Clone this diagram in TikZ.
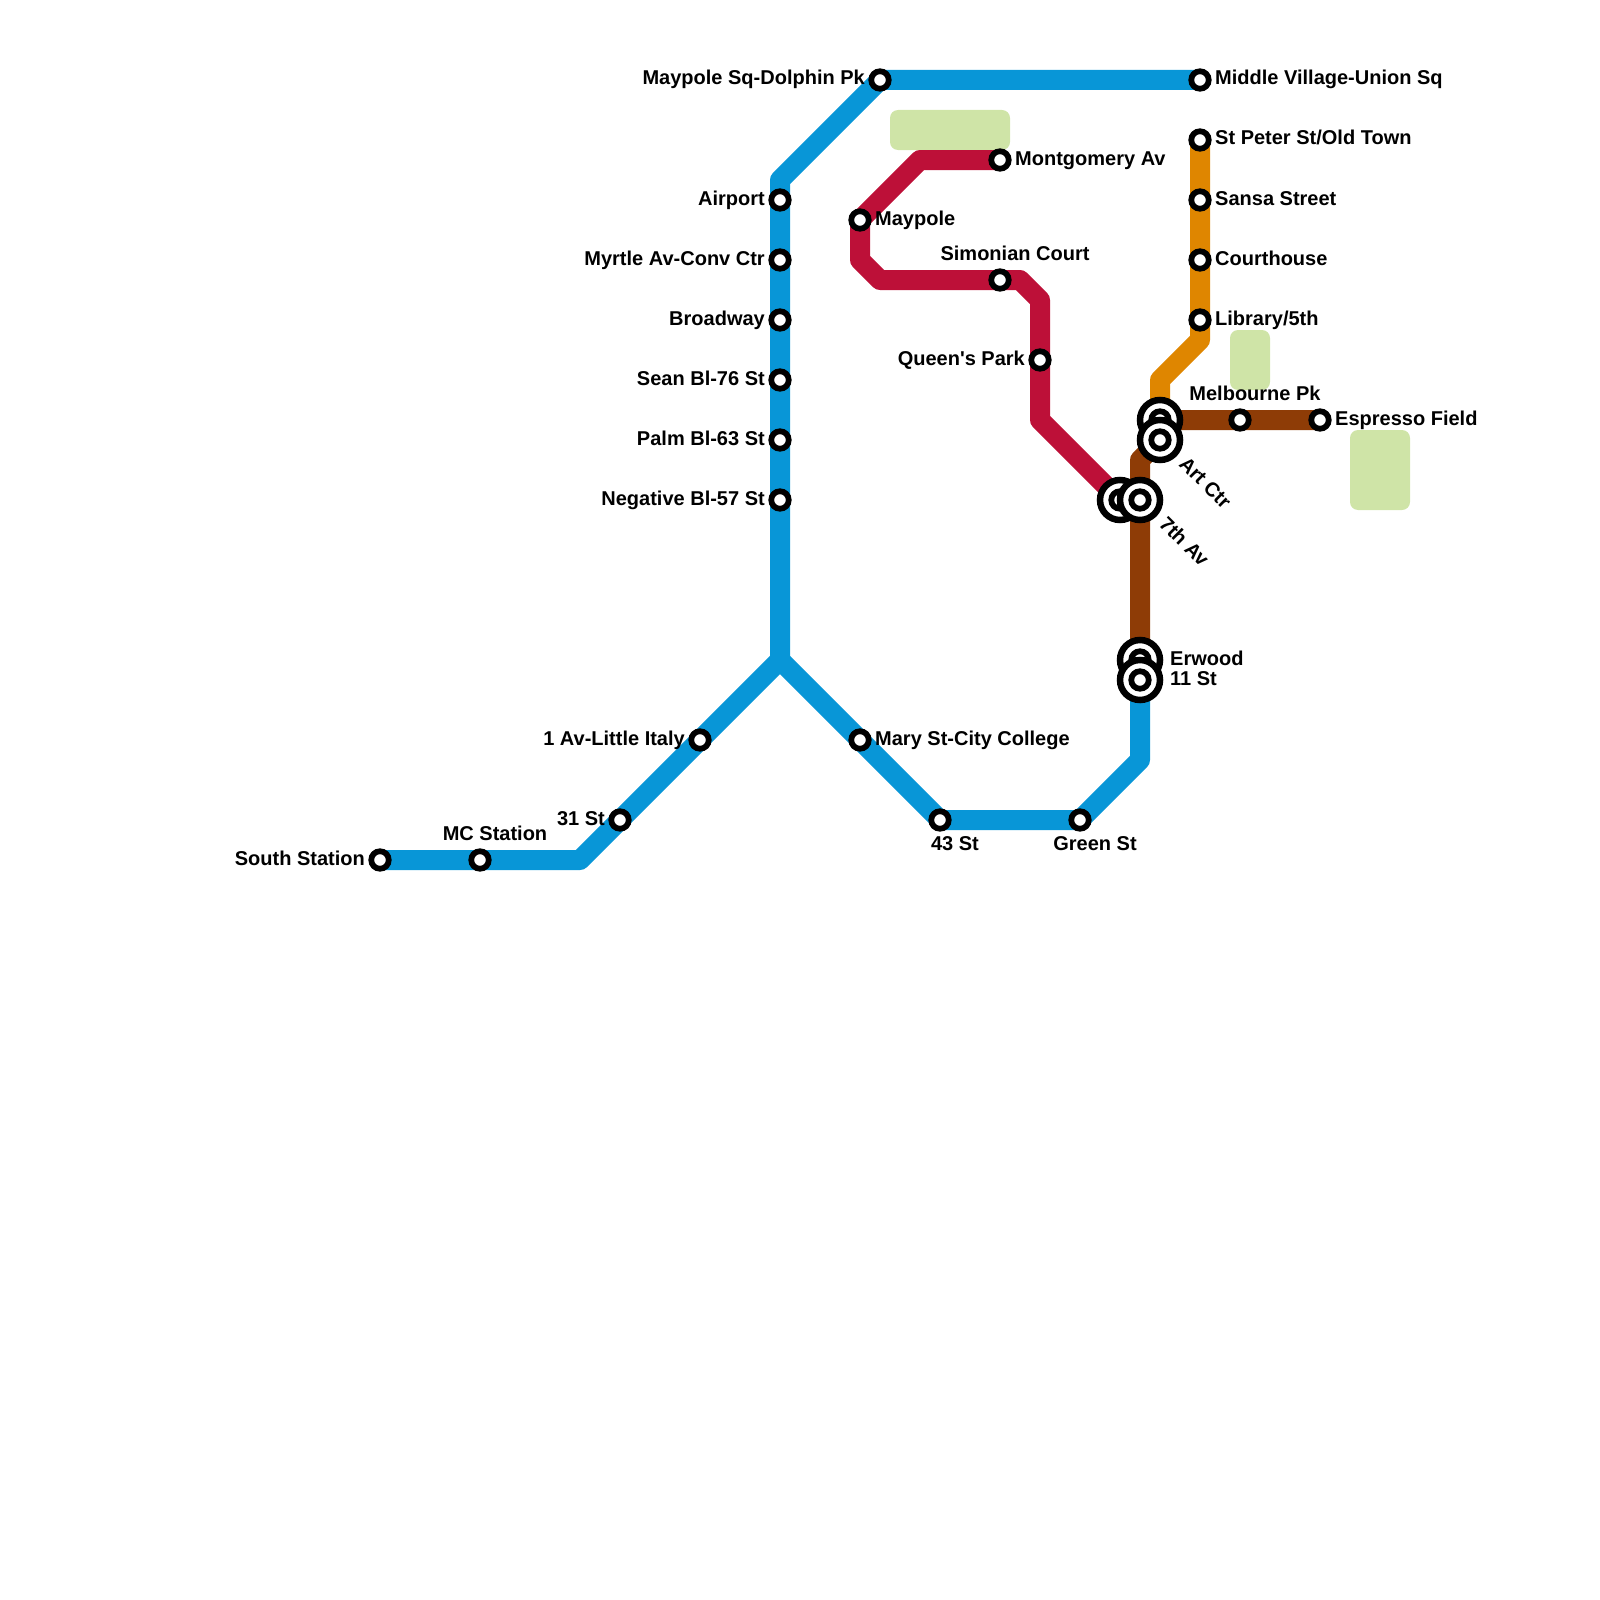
\documentclass[tikz,border=0pt]{standalone}
\usepackage{fontspec}
\setmainfont{Liberation Sans}
\usetikzlibrary{backgrounds}
\definecolor{bluemetro}{HTML}{0896D7}
\definecolor{redmetro}{HTML}{BD1038}
\definecolor{orangemetro}{HTML}{DF8600}
\definecolor{brownmetro}{HTML}{8E3C06}
\definecolor{parkgreen}{HTML}{CFE4A7}
\tikzset{
	station/.style={circle,draw=black,fill=white,line width=5.75pt,minimum size=17.5pt,inner sep=0pt,outer sep=0pt},
	hub/.style={station,line width=6.5pt,minimum size=40pt},
	metro/.style={line width=20pt,line join=round},
	park/.style={fill=parkgreen,rounded corners=8pt},
	stationname/.style={font=\bfseries\fontsize{20}{22}\selectfont,inner sep=0pt}
}
\begin{document}
\begin{tikzpicture}[x=20pt,y=-20pt]
	\useasboundingbox (0,0) rectangle (80,80);
	% blue stations
	\node[station] (south) at (19,43) {};
	\node[station] (mc) at (24,43) {};
	\node[station] (thirtyone) at (31,41) {};
	\node[station] (firstav) at (35,37) {};
	\node[station] (airport) at (39,10) {};
	\node[station] (myrtle) at (39,13) {};
	\node[station] (broadway) at (39,16) {};
	\node[station] (sean) at (39,19) {};
	\node[station] (palm) at (39,22) {};
	\node[station] (negative) at (39,25) {};
	\node[station] (maypolesq) at (44,4) {};
	\node[station] (middle) at (60,4) {};
	\node[station] (mary) at (43,37) {};
	\node[station] (fortythree) at (47,41) {};
	\node[station] (green) at (54,41) {};
	% red stations
	\node[station] (montgomery) at (50,8) {};
	\node[station] (maypole) at (43,11) {};
	\node[station] (simonian) at (50,14) {};
	\node[station] (queens) at (52,18) {};
	% orange stations
	\node[station] (stpeter) at (60,7) {};
	\node[station] (sansa) at (60,10) {};
	\node[station] (courthouse) at (60,13) {};
	\node[station] (library) at (60,16) {};
	% brown stations
	\node[station] (melbourne) at (62,21) {};
	\node[station] (espresso) at (66,21) {};
	% interchanges
	\node[hub] (arthubup) at (58,21) {};
	\node[station] (artup) at (58,21) {};
	\node[hub] (arthub) at (58,22) {};
	\node[station] (art) at (58,22) {};
	\node[hub] (seventhhubleft) at (56,25) {};
	\node[station] (seventhleft) at (56,25) {};
	\node[hub] (seventhhub) at (57,25) {};
	\node[station] (seventh) at (57,25) {};
	\node[hub] (erwoodhub) at (57,33) {};
	\node[station] (erwood) at (57,33) {};
	\node[hub] (elevenhub) at (57,34) {};
	\node[station] (eleven) at (57,34) {};
	% parks and lines under the stations
	\begin{scope}[on background layer]
		\fill[park] (44.5,5.5) rectangle (50.5,7.5);
		\fill[park] (61.5,16.5) rectangle (63.5,19.5);
		\fill[park] (67.5,21.5) rectangle (70.5,25.5);
		\draw[metro,bluemetro] (south.center) -- (mc.center) -- (29,43) -- (thirtyone.center) -- (firstav.center) -- (39,33) -- (negative.center) -- (palm.center) -- (sean.center) -- (broadway.center) -- (myrtle.center) -- (airport.center) -- (39,9) -- (maypolesq.center) -- (middle.center);
		\draw[metro,bluemetro] (39,33) -- (mary.center) -- (fortythree.center) -- (green.center) -- (57,38) -- (eleven.center);
		\draw[metro,redmetro] (montgomery.center) -- (46,8) -- (maypole.center) -- (43,13) -- (44,14) -- (simonian.center) -- (51,14) -- (52,15) -- (queens.center) -- (52,21) -- (seventhleft.center) -- (seventh.center);
		\draw[metro,orangemetro] (stpeter.center) -- (sansa.center) -- (courthouse.center) -- (library.center) -- (60,17) -- (58,19) -- (artup.center);
		\draw[metro,brownmetro] (espresso.center) -- (melbourne.center) -- (artup.center) -- (art.center) -- (57,23) -- (seventh.center) -- (erwood.center);
		\draw[metro,bluemetro] (erwood.center) -- (eleven.center);
	\end{scope}
	% labels on the left
	\node[stationname] (southname) at (18.25,43.25)[anchor = base east] {South Station};
	\node[stationname] (thirtyonename) at (30.25,41.25)[anchor = base east] {31 St};
	\node[stationname] (firstavname) at (34.25,37.25)[anchor = base east] {1 Av-Little Italy};
	\node[stationname] (airportname) at (38.25,10.25)[anchor = base east] {Airport};
	\node[stationname] (myrtlename) at (38.25,13.25)[anchor = base east] {Myrtle Av-Conv Ctr};
	\node[stationname] (broadwayname) at (38.25,16.25)[anchor = base east] {Broadway};
	\node[stationname] (seanname) at (38.25,19.25)[anchor = base east] {Sean Bl-76 St};
	\node[stationname] (palmname) at (38.25,22.25)[anchor = base east] {Palm Bl-63 St};
	\node[stationname] (negativename) at (38.25,25.25)[anchor = base east] {Negative Bl-57 St};
	\node[stationname] (maypolesqname) at (43.25,4.25)[anchor = base east] {Maypole Sq-Dolphin Pk};
	\node[stationname] (queensname) at (51.25,18.25)[anchor = base east] {Queen\textquotesingle s Park};
	% labels on the right
	\node[stationname] (middlename) at (60.75,4.25)[anchor = base west] {Middle Village-Union Sq};
	\node[stationname] (stpetername) at (60.75,7.25)[anchor = base west] {St Peter St/Old Town};
	\node[stationname] (sansaname) at (60.75,10.25)[anchor = base west] {Sansa Street};
	\node[stationname] (courthousename) at (60.75,13.25)[anchor = base west] {Courthouse};
	\node[stationname] (libraryname) at (60.75,16.25)[anchor = base west] {Library/5th};
	\node[stationname] (montgomeryname) at (50.75,8.28)[anchor = base west] {Montgomery Av};
	\node[stationname] (maypolename) at (43.75,11.25)[anchor = base west] {Maypole};
	\node[stationname] (espressoname) at (66.75,21.28)[anchor = base west] {Espresso Field};
	\node[stationname] (maryname) at (43.75,37.25)[anchor = base west] {Mary St-City College};
	\node[stationname] (erwoodname) at (58.5,33.25)[anchor = base west] {Erwood};
	\node[stationname] (elevenname) at (58.5,34.25)[anchor = base west] {11 St};
	% labels above and below
	\node[stationname] (mcname) at (24.75,42)[anchor = base] {MC Station};
	\node[stationname] (simonianname) at (50.75,13)[anchor = base] {Simonian Court};
	\node[stationname] (melbournename) at (62.75,20)[anchor = base] {Melbourne Pk};
	\node[stationname] (fortythreename) at (47.75,42.5)[anchor = base] {43 St};
	\node[stationname] (greenname) at (54.75,42.5)[anchor = base] {Green St};
	% slanted labels
	\node[stationname,rotate=-45] (artname) at (58.9,23.25)[anchor = base west] {Art Ctr};
	\node[stationname,rotate=-45] (seventhname) at (57.9,26.25)[anchor = base west] {7th Av};
\end{tikzpicture}
\end{document}
